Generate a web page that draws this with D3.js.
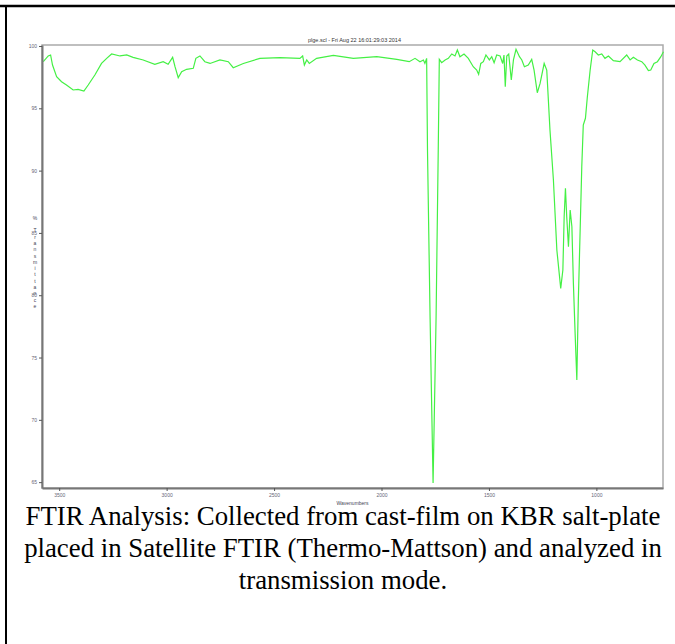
<!DOCTYPE html>
<html>
<head>
<meta charset="utf-8">
<script src="https://cdn.jsdelivr.net/npm/d3@7"></script>
<style>
  body { margin: 0; background: #fff; }
  svg { display: block; }
</style>
</head>
<body>
<div id="chart"></div>
<script>
// spectrum (wavenumber, %T)
var wavenumbers = [3574, 3551, 3540, 3531, 3512, 3489, 3466, 3435, 3412, 3385, 3365, 3334, 3303, 3279, 3256,
  3217, 3186, 3156, 3109, 3055, 3016, 2993, 2972, 2961, 2946, 2930, 2907, 2876, 2864, 2845, 2822, 2798,
  2752, 2713, 2690, 2643, 2566, 2473, 2380, 2367, 2359, 2348, 2336, 2302, 2224, 2131, 2022, 1929, 1871,
  1844, 1821, 1805, 1798, 1790, 1786, 1774, 1760, 1746, 1736, 1731, 1720, 1704, 1689, 1673, 1658, 1647,
  1635, 1616, 1596, 1573, 1557, 1548, 1538, 1526, 1514, 1498, 1487, 1476, 1464, 1448, 1436, 1430, 1424,
  1417, 1408, 1396, 1386, 1374, 1358, 1347, 1335, 1317, 1301, 1290, 1275, 1262, 1243, 1231, 1216, 1200,
  1184, 1166, 1156, 1150, 1144, 1138, 1130, 1122, 1114, 1107, 1099, 1091, 1084, 1076, 1068, 1061, 1051,
  1042, 1029, 1017, 1006, 991, 975, 960, 944, 921, 890, 859, 843, 828, 809, 789, 774, 758, 747, 732, 716,
  700, 688];
var transmittance = [98.74, 99.2, 99.28, 98.47, 97.54, 97.13, 96.87, 96.47, 96.52, 96.39, 96.87, 97.67, 98.6, 99.01, 99.36,
  99.2, 99.28, 99.09, 98.88, 98.53, 98.74, 98.53, 99.09, 98.34, 97.46, 97.94, 98.13, 98.21, 99.01, 99.2, 98.74, 98.6,
  98.88, 98.74, 98.26, 98.6, 99.01, 99.06, 99.01, 99.2, 98.47, 98.88, 98.6, 99.01, 99.25, 99.01, 99.14, 98.93, 98.74,
  99.01, 98.74, 98.88, 98.6, 99.01, 91.65, 78.25, 64.93, 78.25, 91.65, 98.93, 98.66, 98.88, 99.01, 99.36, 99.2, 99.68,
  99.14, 99.36, 99.01, 98.34, 98.07, 97.73, 98.6, 98.74, 99.28, 98.88, 99.14, 98.66, 99.28, 99.2, 98.6, 99.28, 96.73,
  99.2, 99.36, 97.27, 98.88, 99.73, 99.14, 98.88, 98.34, 98.47, 98.93, 98.07, 96.25, 97.0, 98.6, 98.07, 93.26, 89.25,
  83.63, 80.55, 82.02, 86.3, 88.58, 86.3, 83.89, 86.84, 85.5, 80.95, 76.94, 73.19, 79.61, 84.96, 90.31, 93.66, 94.2,
  95.93, 98.07, 99.68, 99.54, 99.28, 99.36, 99.01, 99.2, 98.82, 98.74, 99.28, 98.88, 99.09, 98.88, 98.74, 98.47, 98.02, 98.07, 98.6, 98.74,
  99.14, 99.54];
var xTicks = [3500, 3000, 2500, 2000, 1500, 1000];
var yTicks = [100, 95, 90, 85, 80, 75, 70, 65];
var plotTitle = "plge.scl - Fri Aug 22 16:01:29:03 2014";
var xLabel = "Wavenumbers";
var yLabel = "%Transmittance";
var caption = ["FTIR Analysis: Collected from cast-film on KBR salt-plate",
  "placed in Satellite FTIR (Thermo-Mattson) and analyzed in",
  "transmission mode."];

var width = 675, height = 644;
var plotLeft = 42, plotRight = 663, plotTop = 45, plotBottom = 488;

var svg = d3.select("#chart").append("svg")
    .attr("width", width)
    .attr("height", height);

// page frame (top and left rules)
svg.append("line").attr("x1", 0).attr("x2", width).attr("y1", 6).attr("y2", 6)
    .attr("stroke", "#000").attr("stroke-width", 2.5);
svg.append("line").attr("x1", 6).attr("x2", 6).attr("y1", 5).attr("y2", height)
    .attr("stroke", "#000").attr("stroke-width", 2);

var x = d3.scaleLinear().domain([3580, 690]).range([plotLeft, plotRight]);
var y = d3.scaleLinear().domain([64.53, 100.08]).range([plotBottom, plotTop]);

// plot box
svg.append("rect")
    .attr("x", plotLeft).attr("y", plotTop)
    .attr("width", plotRight - plotLeft).attr("height", plotBottom - plotTop)
    .attr("fill", "none").attr("stroke", "#aaa").attr("stroke-width", 1.5);

// spectrum
var pts = wavenumbers.map(function(d, i) { return [d, transmittance[i]]; });
svg.append("path")
    .datum(pts)
    .attr("fill", "none")
    .attr("stroke", "#44f044")
    .attr("stroke-width", 1.2)
    .attr("d", d3.line().x(function(d) { return x(d[0]); }).y(function(d) { return y(d[1]); }));

// axes
var xAxis = svg.append("g")
    .attr("transform", "translate(0," + plotBottom + ")")
    .call(d3.axisBottom(x).tickValues(xTicks).tickSize(3).tickSizeOuter(0).tickFormat(d3.format("d")));
var yAxis = svg.append("g")
    .attr("transform", "translate(" + plotLeft + ",0)")
    .call(d3.axisLeft(y).tickValues(yTicks).tickSize(3).tickSizeOuter(0).tickFormat(d3.format("d")));

[xAxis, yAxis].forEach(function(a) {
  a.select(".domain").attr("stroke", "#777").attr("stroke-width", 2);
  a.selectAll(".tick line").attr("stroke", "#555");
  a.selectAll("text").attr("fill", "#667").style("font-family", "Liberation Sans, Arial, sans-serif")
    .style("font-size", "5px");
});
xAxis.selectAll("text").attr("dy", "0.6em");
yAxis.selectAll("text").attr("dx", "0.2em");

// title
svg.append("text")
    .attr("x", (plotLeft + plotRight) / 2 + 2).attr("y", 42)
    .attr("text-anchor", "middle")
    .style("font-family", "Liberation Sans, Arial, sans-serif")
    .style("font-size", "5.5px")
    .attr("fill", "#333")
    .text(plotTitle);

// x label
svg.append("text")
    .attr("x", (plotLeft + plotRight) / 2).attr("y", 505)
    .attr("text-anchor", "middle")
    .style("font-family", "Liberation Sans, Arial, sans-serif")
    .style("font-size", "5px")
    .attr("fill", "#445")
    .text(xLabel);

// y label, stacked letters
svg.append("g").selectAll("text")
    .data(yLabel.split(""))
    .enter()
    .append("text")
    .attr("x", 35)
    .attr("y", function(d, i) { return i == 0 ? 220 : 226 + i * 6.3; })
    .attr("text-anchor", "middle")
    .style("font-family", "Liberation Sans, Arial, sans-serif")
    .style("font-size", "5px")
    .attr("fill", "#445")
    .text(function(d) { return d; });

// caption
svg.append("g").selectAll("text")
    .data(caption)
    .enter()
    .append("text")
    .attr("x", 343)
    .attr("y", function(d, i) { return 525 + i * 32; })
    .attr("text-anchor", "middle")
    .style("font-family", "Liberation Serif, Times New Roman, serif")
    .style("font-size", "26.8px")
    .attr("fill", "#000")
    .text(function(d) { return d; });
</script>
</body>
</html>
